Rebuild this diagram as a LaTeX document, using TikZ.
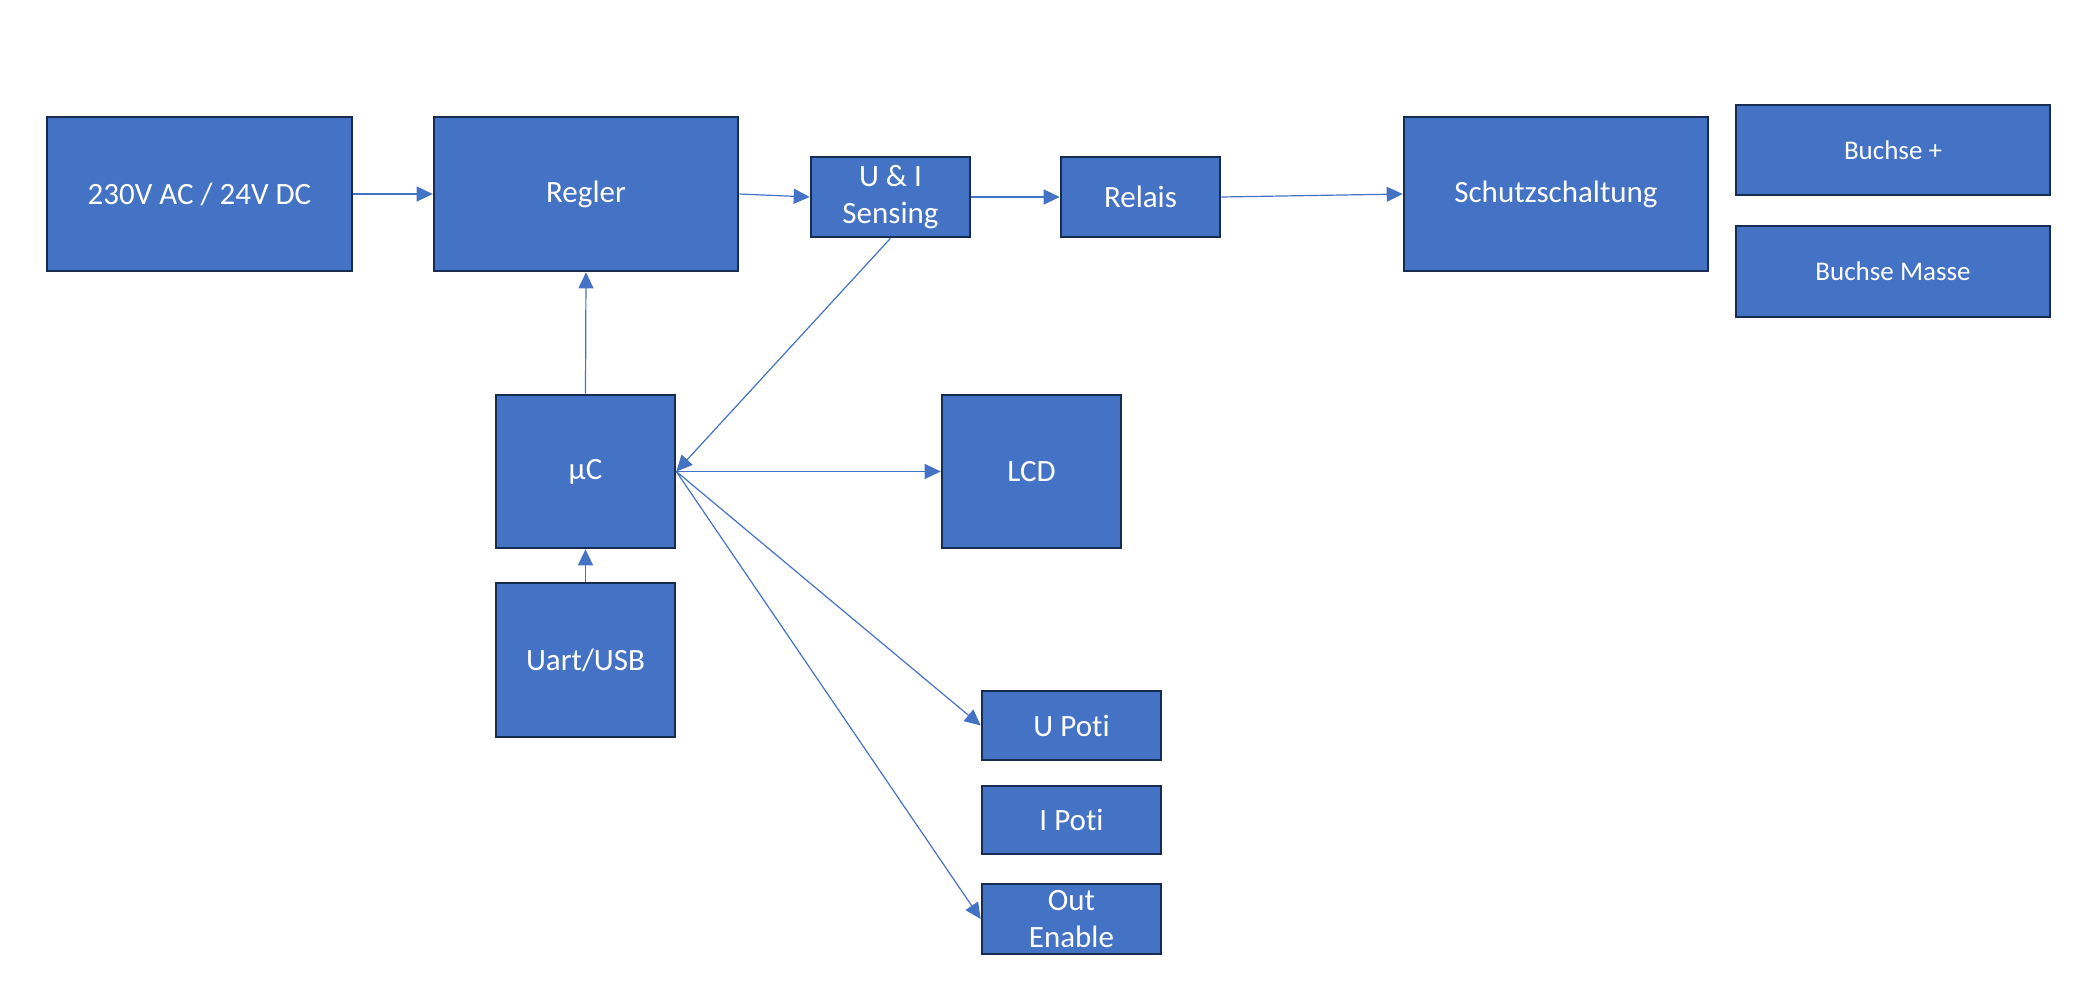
\documentclass[tikz,border=0pt]{standalone}
\usepackage{fontspec}
\setmainfont{Carlito}[Ligatures={NoCommon}]
\usetikzlibrary{arrows.meta}
\definecolor{boxfill}{HTML}{4472C4}
\definecolor{boxline}{HTML}{172C51}
\definecolor{linkc}{HTML}{4472C4}
\tikzset{
  blk/.style={draw=boxline, fill=boxfill, line width=2.6pt, text=white, align=center, inner sep=0pt,
    font=\fontsize{31}{37}\selectfont},
  smallblk/.style={blk, font=\fontsize{27}{33}\selectfont},
  link/.style={draw=linkc, line width=1.2pt, -{Triangle[length=16pt,width=15pt]}}
}
\begin{document}
\begin{tikzpicture}[x=1pt,y=-1pt]
\useasboundingbox (0,0) rectangle (2083,998);
\node[blk, minimum width=305, minimum height=154] (src) at (199.5,194) {230V AC / 24V DC};
\node[blk, minimum width=304, minimum height=154] (reg) at (586,194) {Regler};
\node[blk, minimum width=159, minimum height=80] (ui) at (890.5,197) {U \& I\\Sensing};
\node[blk, minimum width=159, minimum height=80] (rel) at (1140.5,197) {Relais};
\node[blk, minimum width=304, minimum height=154] (sch) at (1556,194) {Schutzschaltung};
\node[smallblk, minimum width=314, minimum height=90] (bp) at (1893,150) {Buchse +};
\node[smallblk, minimum width=314, minimum height=91] (bm) at (1893,271.5) {Buchse Masse};
\node[blk, minimum width=179, minimum height=153] (uc) at (585.5,471.5) {µC};
\node[blk, minimum width=179, minimum height=153] (lcd) at (1031.5,471.5) {LCD};
\node[blk, minimum width=179, minimum height=154] (uart) at (585.5,660) {Uart/USB};
\node[blk, minimum width=179, minimum height=69] (up) at (1071.5,725.5) {U Poti};
\node[blk, minimum width=179, minimum height=68] (ip) at (1071.5,820) {I Poti};
\node[blk, minimum width=179, minimum height=70] (oe) at (1071.5,919) {Out\\Enable};
\draw[link] (src.east) -- (reg.west);
\draw[link] (reg.east) -- (ui.west);
\draw[link] (ui.east) -- (rel.west);
\draw[link] (rel.east) -- (sch.west);
\draw[link] (uc.north) -- (reg.south);
\draw[link] (ui.south) -- (uc.east);
\draw[link] (uc.east) -- (lcd.west);
\draw[link] (uc.east) -- (up.west);
\draw[link] (uc.east) -- (oe.west);
\draw[link] (uart.north) -- (uc.south);
\end{tikzpicture}
\end{document}
